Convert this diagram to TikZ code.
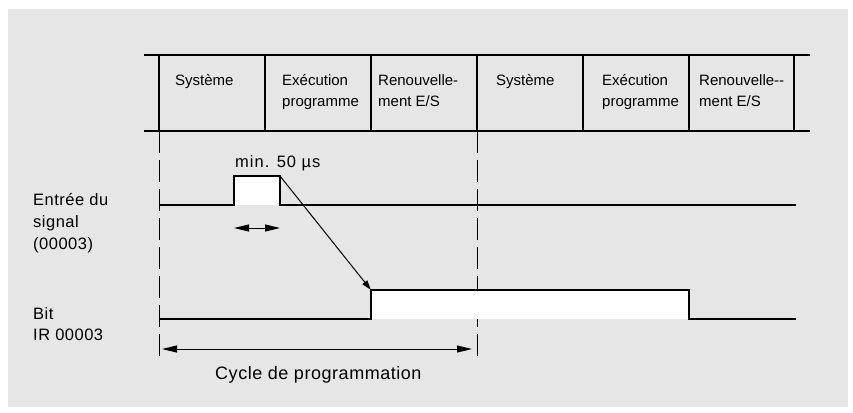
\documentclass[tikz,border=0pt]{standalone}
\usepackage{fontspec}
\setmainfont{Liberation Sans}
\newfontfamily\spacedfont[LetterSpace=6]{Liberation Sans}
\newfontfamily\lightspaced[LetterSpace=3]{Liberation Sans}
\usetikzlibrary{arrows.meta}
\definecolor{bg}{HTML}{E6E6E6}
\tikzset{
  lbl/.style={anchor=base west, inner sep=0pt, font=\fontsize{15bp}{18bp}\selectfont},
  side/.style={anchor=base west, inner sep=0pt, font=\lightspaced\fontsize{16.5bp}{18bp}\selectfont},
  note/.style={anchor=base west, inner sep=0pt, font=\spacedfont\fontsize{16.5bp}{18bp}\selectfont},
  tline/.style={line width=1.3bp},
  tthick/.style={line width=2.6bp},
  sig/.style={line width=2bp, line join=miter},
  dsh/.style={line width=0.9bp, dash pattern=on 22bp off 7bp},
  arr/.style={line width=1bp, -{Triangle[length=10bp,width=6bp]}},
  darr/.style={line width=1bp, {Triangle[length=15bp,width=7bp]}-{Triangle[length=15bp,width=7bp]}},
}
\begin{document}
\begin{tikzpicture}[x=1bp,y=-1bp]
\useasboundingbox (0,0) rectangle (853,412);
\fill[bg] (8,9) rectangle (848,407);
% table
\draw[tline] (144,55) -- (810,55);
\draw[tline] (144,131) -- (810,131);
\foreach \x in {265,371,583,689} \draw[tline] (\x,55) -- (\x,131);
\foreach \x in {159,477,794} \draw[tthick] (\x,55) -- (\x,131);
% cell texts
\node[lbl] (s1) at (175,85) {Système};
\node[lbl] (e1) at (282,85) {Exécution};
\node[lbl] (p1) at (282,106) {programme};
\node[lbl] (r1) at (378,85) {Renouvelle-};
\node[lbl] (m1) at (378,106) {ment E/S};
\node[lbl] (s2) at (496,85) {Système};
\node[lbl] (e2) at (602,85) {Exécution};
\node[lbl] (p2) at (602,106) {programme};
\node[lbl] (r2) at (699,85) {Renouvelle-{}-};
\node[lbl] (m2) at (699,106) {ment E/S};
% dashed cycle limits
\draw[dsh] (159,131) -- (159,358);
\draw[dsh] (477,131) -- (477,358);
% input signal
\fill[white] (234,176) rectangle (280,205);
\coordinate (pulseEnd) at (280,176);
\draw[sig] (159,205) -- (234,205) -- (234,176) -- (pulseEnd) -- (280,205) -- (796,205);
\node[note] (min) at (235,167) {min. 50 µs};
\coordinate (wa) at (234,228);
\coordinate (wb) at (280,228);
\draw[darr] (wa) -- (wb);
% bit signal
\fill[white] (371,290) rectangle (689,319);
\coordinate (bitRise) at (371,290);
\draw[sig] (159,319) -- (371,319) -- (bitRise) -- (689,290) -- (689,319) -- (796,319);
\draw[arr] (pulseEnd) -- (bitRise);
% cycle arrow
\coordinate (ca) at (162,349);
\coordinate (cb) at (472,349);
\draw[darr] (ca) -- (cb);
\node[anchor=base west, inner sep=0pt, font=\lightspaced\fontsize{18bp}{20bp}\selectfont] (cyc) at (215,379) {Cycle de programmation};
% left labels
\node[side] (in1) at (33,205) {Entrée du};
\node[side] (in2) at (33,227) {signal};
\node[side] (in3) at (33,249) {(00003)};
\node[side] (b1) at (33,319) {Bit};
\node[side] (b2) at (33,340) {IR 00003};
\end{tikzpicture}
\end{document}
